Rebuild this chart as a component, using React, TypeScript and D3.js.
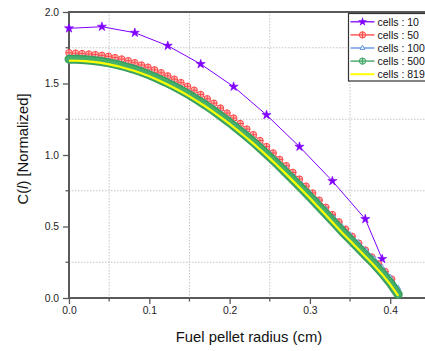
import { useEffect, useRef } from 'react';
import * as d3 from 'd3';

// radius grid for the fine-mesh series (cm)
const fineRadius = [
  0.0, 0.01, 0.02, 0.03, 0.04, 0.05, 0.06, 0.07, 0.08, 0.09, 0.1, 0.11, 0.12, 0.13,
  0.14, 0.15, 0.16, 0.17, 0.18, 0.19, 0.2, 0.21, 0.22, 0.23, 0.24, 0.25, 0.26, 0.27,
  0.28, 0.29, 0.3, 0.31, 0.32, 0.33, 0.34, 0.35, 0.36, 0.37, 0.38, 0.39, 0.4, 0.41,
];

// cells : 10
const radius10 = [0.0, 0.041, 0.082, 0.123, 0.164, 0.205, 0.246, 0.287, 0.328, 0.369, 0.39];
const cells10 = [1.886, 1.897, 1.855, 1.764, 1.636, 1.478, 1.28, 1.058, 0.818, 0.552, 0.273];

// cells : 50
const radius50 = [
  0.0, 0.0082, 0.0164, 0.0246, 0.0328, 0.041, 0.0492, 0.0574, 0.0656, 0.0738,
  0.082, 0.0902, 0.0984, 0.1066, 0.1148, 0.123, 0.1312, 0.1394, 0.1476, 0.1558,
  0.164, 0.1722, 0.1804, 0.1886, 0.1968, 0.205, 0.2132, 0.2214, 0.2296, 0.2378,
  0.246, 0.2542, 0.2624, 0.2706, 0.2788, 0.287, 0.2952, 0.3034, 0.3116, 0.3198,
  0.328, 0.3362, 0.3444, 0.3526, 0.3608, 0.369, 0.3772, 0.3854, 0.3936, 0.4018,
];
const cells50 = [
  1.715, 1.712, 1.709, 1.706, 1.702, 1.697, 1.69, 1.681, 1.671, 1.659,
  1.645, 1.629, 1.614, 1.595, 1.575, 1.553, 1.53, 1.506, 1.48, 1.453,
  1.423, 1.393, 1.362, 1.328, 1.293, 1.258, 1.22, 1.181, 1.142, 1.101,
  1.059, 1.014, 0.969, 0.925, 0.878, 0.831, 0.782, 0.734, 0.684, 0.634,
  0.583, 0.532, 0.481, 0.431, 0.383, 0.335, 0.286, 0.238, 0.185, 0.132,
];

// cells : 100
const cells100 = [
  1.685, 1.684, 1.681, 1.676, 1.669, 1.659, 1.647, 1.633, 1.617, 1.598, 1.577, 1.553,
  1.527, 1.499, 1.47, 1.438, 1.404, 1.368, 1.33, 1.29, 1.248, 1.204, 1.158, 1.111,
  1.062, 1.011, 0.959, 0.905, 0.85, 0.794, 0.737, 0.679, 0.62, 0.561, 0.501, 0.444,
  0.389, 0.333, 0.277, 0.216, 0.148, 0.07,
];

// cells : 500
const cells500 = [
  1.67, 1.669, 1.666, 1.661, 1.654, 1.644, 1.632, 1.617, 1.601, 1.582, 1.56, 1.536,
  1.51, 1.482, 1.452, 1.42, 1.385, 1.349, 1.31, 1.269, 1.227, 1.182, 1.136, 1.088,
  1.038, 0.986, 0.933, 0.878, 0.822, 0.765, 0.707, 0.648, 0.588, 0.528, 0.467, 0.41,
  0.352, 0.295, 0.238, 0.175, 0.105, 0.025,
];

// cells : 8192
const cells8192 = [
  1.66, 1.659, 1.656, 1.651, 1.644, 1.634, 1.622, 1.607, 1.591, 1.572, 1.55, 1.526,
  1.5, 1.472, 1.442, 1.41, 1.375, 1.339, 1.3, 1.259, 1.217, 1.172, 1.126, 1.078,
  1.028, 0.976, 0.923, 0.868, 0.812, 0.755, 0.697, 0.638, 0.578, 0.518, 0.457, 0.4,
  0.342, 0.285, 0.228, 0.165, 0.095, 0.015,
];

const xTicks = [0, 0.1, 0.2, 0.3, 0.4];
const xMinorTicks = [0.05, 0.15, 0.25, 0.35];
const yTicks = [0, 0.5, 1.0, 1.5, 2.0];
const yMinorTicks = [0.25, 0.75, 1.25, 1.75];
const legendLabels = ['cells : 10', 'cells : 50', 'cells : 100', 'cells : 500', 'cells : 8192'];

const PURPLE = '#8000ff';
const RED = '#ff4040';
const BLUE = '#5b8fe0';
const GREEN = '#3a9e5f';
const YELLOW = '#ffff00';
const AXIS = '#5a5a5a';
const FONT = 'Liberation Sans, Arial, sans-serif';

const App = () => {
  const ref = useRef<SVGSVGElement>(null);

  useEffect(() => {
    if (!ref.current) return;
    const svg = d3.select(ref.current);
    svg.selectAll('*').remove();

    const W = 425;
    const H = 351;
    const left = 69;
    const top = 12;
    const bottom = 298;

    const x = d3.scaleLinear().domain([0, 0.45]).range([left, left + 0.45 * 803]);
    const y = d3.scaleLinear().domain([0, 2]).range([bottom, top]);

    svg.append('rect').attr('width', W).attr('height', H).attr('fill', 'white');

    // dotted grid at minor positions
    const grid = svg.append('g');
    xMinorTicks.forEach(t => {
      grid.append('line')
        .attr('x1', x(t)).attr('x2', x(t)).attr('y1', top).attr('y2', bottom)
        .attr('stroke', '#c4c4c4').attr('stroke-dasharray', '1.5,1.5');
    });
    yMinorTicks.forEach(t => {
      grid.append('line')
        .attr('x1', left).attr('x2', W).attr('y1', y(t)).attr('y2', y(t))
        .attr('stroke', '#c4c4c4').attr('stroke-dasharray', '1.5,1.5');
    });

    // axes
    const xAxis = svg.append('g').attr('transform', `translate(0,${bottom})`);
    xAxis.call(d3.axisBottom(x).tickValues(xTicks).tickSize(6).tickPadding(3)
      .tickFormat(d => d3.format('.1f')(d as number)))
      .call(g => g.select('.domain').remove())
      .call(g => g.selectAll('.tick line').attr('stroke', AXIS).attr('stroke-width', 1.3))
      .call(g => g.selectAll('text').style('font-size', '10.3px').style('font-family', FONT).attr('fill', '#222'));
    xMinorTicks.forEach(t => {
      xAxis.append('line').attr('x1', x(t)).attr('x2', x(t)).attr('y1', 0).attr('y2', 3.5)
        .attr('stroke', AXIS).attr('stroke-width', 1.3);
    });

    const yAxis = svg.append('g').attr('transform', `translate(${left},0)`);
    yAxis.call(d3.axisLeft(y).tickValues(yTicks).tickSize(6).tickPadding(4)
      .tickFormat(d => d3.format('.1f')(d as number)))
      .call(g => g.select('.domain').remove())
      .call(g => g.selectAll('.tick line').attr('stroke', AXIS).attr('stroke-width', 1.3))
      .call(g => g.selectAll('text').style('font-size', '10.3px').style('font-family', FONT).attr('fill', '#222'));
    yMinorTicks.forEach(t => {
      yAxis.append('line').attr('x1', 0).attr('x2', -3.5).attr('y1', y(t)).attr('y2', y(t))
        .attr('stroke', AXIS).attr('stroke-width', 1.3);
    });

    // frame lines
    svg.append('line').attr('x1', left).attr('x2', W).attr('y1', bottom).attr('y2', bottom)
      .attr('stroke', AXIS).attr('stroke-width', 2);
    svg.append('line').attr('x1', left).attr('x2', W).attr('y1', top).attr('y2', top)
      .attr('stroke', AXIS).attr('stroke-width', 2);
    svg.append('line').attr('x1', left).attr('x2', left).attr('y1', top - 1).attr('y2', bottom + 1)
      .attr('stroke', AXIS).attr('stroke-width', 2);

    // axis titles
    svg.append('text')
      .attr('x', 249).attr('y', 342)
      .attr('text-anchor', 'middle')
      .style('font-size', '14.8px').style('font-family', FONT).attr('fill', '#111')
      .text('Fuel pellet radius (cm)');

    const yt = svg.append('text')
      .attr('transform', 'translate(28,149) rotate(-90)')
      .attr('text-anchor', 'middle')
      .style('font-size', '14.8px').style('font-family', FONT).attr('fill', '#111');
    yt.append('tspan').text('C(');
    yt.append('tspan').style('font-style', 'italic').text('l');
    yt.append('tspan').text(') [Normalized]');

    const line = d3.line<[number, number]>().x(d => x(d[0])).y(d => y(d[1]));
    const zip = (xs: number[], ys: number[]) => xs.map((v, i) => [v, ys[i]] as [number, number]);

    const star = d3.symbol().type(d3.symbolStar).size(26);
    const tri = d3.symbol().type(d3.symbolTriangle).size(10);

    // cells : 10
    const p10 = zip(radius10, cells10);
    svg.append('path').attr('d', line(p10)).attr('fill', 'none').attr('stroke', PURPLE).attr('stroke-width', 1);
    svg.append('g').selectAll('path').data(p10).enter().append('path')
      .attr('transform', d => `translate(${x(d[0])},${y(d[1])})`)
      .attr('d', star() as string).attr('fill', PURPLE).attr('stroke', PURPLE).attr('stroke-width', 0.6);

    // cells : 50
    const p50 = zip(radius50, cells50);
    svg.append('path').attr('d', line(p50)).attr('fill', 'none').attr('stroke', RED).attr('stroke-width', 1);
    const m50 = svg.append('g').selectAll('g').data(p50).enter().append('g')
      .attr('transform', d => `translate(${x(d[0])},${y(d[1])})`);
    m50.append('circle').attr('r', 3.3).attr('fill', '#ffb8b8').attr('stroke', RED).attr('stroke-width', 0.9);
    m50.append('path').attr('d', 'M-3.3,0H3.3M0,-3.3V3.3').attr('stroke', RED).attr('stroke-width', 0.9);

    // cells : 100
    const p100 = zip(fineRadius, cells100);
    svg.append('path').attr('d', line(p100)).attr('fill', 'none').attr('stroke', BLUE).attr('stroke-width', 2);
    svg.append('g').selectAll('path').data(p100).enter().append('path')
      .attr('transform', d => `translate(${x(d[0])},${y(d[1])})`)
      .attr('d', tri() as string).attr('fill', 'white').attr('stroke', BLUE).attr('stroke-width', 0.9);

    // cells : 500 - dense markers form a thick band
    const p500 = zip(fineRadius, cells500);
    svg.append('path').attr('d', line(p500)).attr('fill', 'none').attr('stroke', GREEN)
      .attr('stroke-width', 9).attr('stroke-linecap', 'round').attr('stroke-linejoin', 'round');
    svg.append('path').attr('d', line(p500)).attr('fill', 'none').attr('stroke', '#45b06c')
      .attr('stroke-width', 6).attr('stroke-linecap', 'round').attr('stroke-linejoin', 'round');

    // cells : 8192
    const p8192 = zip(fineRadius, cells8192);
    svg.append('path').attr('d', line(p8192)).attr('fill', 'none').attr('stroke', YELLOW).attr('stroke-width', 2.2);

    // legend
    const lg = svg.append('g').attr('transform', 'translate(348.5,13.5)');
    lg.append('rect').attr('width', 100).attr('height', 67.5)
      .attr('fill', 'white').attr('stroke', '#333').attr('stroke-width', 1.2);
    legendLabels.forEach((label, i) => {
      const row = lg.append('g').attr('transform', `translate(0,${8.3 + i * 13.1})`);
      const col = [PURPLE, RED, BLUE, GREEN, YELLOW][i];
      row.append('line').attr('x1', 2).attr('x2', 26).attr('stroke', col).attr('stroke-width', i === 4 ? 2 : 1.3);
      if (i === 0) row.append('path').attr('transform', 'translate(14,0)').attr('d', star() as string).attr('fill', PURPLE);
      if (i === 1 || i === 3) {
        row.append('circle').attr('cx', 14).attr('r', 3.2).attr('fill', i === 1 ? '#ffb8b8' : '#a8e0bc').attr('stroke', col).attr('stroke-width', 0.9);
        row.append('path').attr('d', 'M10.8,0H17.2M14,-3.2V3.2').attr('stroke', col).attr('stroke-width', 0.9);
      }
      if (i === 2) row.append('path').attr('transform', 'translate(14,0)').attr('d', tri() as string).attr('fill', 'white').attr('stroke', BLUE);
      row.append('text').attr('x', 29).attr('y', 3.8)
        .style('font-size', '10.5px').style('font-family', FONT).attr('fill', '#111').text(label);
    });
  }, []);

  return (
    <svg ref={ref} width={425} height={351} style={{ position: 'absolute', left: 0, top: 0 }} />
  );
};

export default App;
